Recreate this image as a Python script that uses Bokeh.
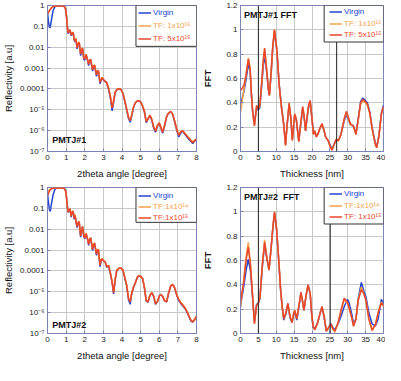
from bokeh.plotting import figure
from bokeh.models import Range1d, FixedTicker, Legend, LegendItem, BoxAnnotation, Span, Label
from bokeh.layouts import row, column
from bokeh.embed import file_html
from bokeh.resources import INLINE

# ---------------- data ----------------
xrr_angle = [0.00, 0.05, 0.10, 0.15, 0.20, 0.30, 0.40, 0.50, 0.60, 0.70,
             0.80, 0.90, 0.97, 1.02, 1.07, 1.11, 1.16, 1.21, 1.27, 1.33,
             1.38, 1.43, 1.48, 1.53, 1.59, 1.65, 1.70, 1.78, 1.83, 1.88,
             1.95, 2.00, 2.07, 2.14, 2.21, 2.27, 2.32, 2.42, 2.48, 2.53,
             2.63, 2.68, 2.73, 2.82, 2.88, 2.94, 3.02, 3.10, 3.18, 3.28,
             3.37, 3.47, 3.55, 3.63, 3.72, 3.85, 3.95, 4.05, 4.15, 4.25,
             4.35, 4.44, 4.52, 4.62, 4.72, 4.82, 4.90, 5.00, 5.10, 5.20,
             5.30, 5.40, 5.50, 5.60, 5.70, 5.80, 5.90, 6.00, 6.08, 6.18,
             6.28, 6.40, 6.50, 6.62, 6.72, 6.82, 6.95, 7.05, 7.15, 7.25,
             7.38, 7.50, 7.60, 7.70, 7.80, 7.90, 8.00]

# log10 of reflectivity, PMTJ#1
p1_virgin_log = [-0.35, -0.75, -1.05, -1.05, -0.75, -0.25, -0.05, -0.02, -0.02, -0.02,
                 -0.02, -0.04, -0.14, -0.48, -1.00, -1.35, -1.25, -1.18, -1.45, -1.33,
                 -1.30, -1.65, -1.75, -1.60, -2.08, -1.83, -1.77, -2.40, -2.18, -2.05,
                 -2.58, -2.62, -2.36, -2.60, -2.88, -2.63, -2.60, -3.15, -2.92, -2.88,
                 -3.40, -3.20, -3.14, -3.75, -3.60, -3.48, -3.58, -3.65, -3.72, -4.02,
                 -4.40, -5.05, -4.65, -4.18, -4.04, -4.00, -4.04, -4.22, -4.58, -5.00,
                 -5.42, -5.60, -5.30, -4.88, -4.66, -4.58, -4.56, -4.62, -4.80, -5.08,
                 -5.62, -5.45, -5.27, -5.50, -5.88, -6.08, -5.80, -5.64, -5.85, -6.12,
                 -5.80, -5.32, -5.16, -5.08, -5.22, -5.55, -6.02, -6.30, -6.12, -6.02,
                 -6.18, -6.32, -6.42, -6.52, -6.62, -6.50, -6.42]
p1_tf1_log = [-0.38, -0.30, -0.24, -0.18, -0.12, -0.05, -0.02, -0.02, -0.02, -0.02,
              -0.02, -0.04, -0.15, -0.50, -1.05, -1.30, -1.20, -1.15, -1.40, -1.30,
              -1.28, -1.60, -1.70, -1.58, -2.00, -1.80, -1.75, -2.30, -2.15, -2.02,
              -2.50, -2.55, -2.33, -2.55, -2.80, -2.60, -2.58, -3.05, -2.88, -2.85,
              -3.30, -3.15, -3.10, -3.65, -3.55, -3.45, -3.55, -3.62, -3.68, -3.95,
              -4.30, -4.90, -4.55, -4.15, -4.02, -3.98, -4.02, -4.20, -4.55, -4.95,
              -5.35, -5.50, -5.25, -4.85, -4.65, -4.57, -4.56, -4.62, -4.80, -5.05,
              -5.55, -5.40, -5.25, -5.45, -5.80, -6.00, -5.75, -5.62, -5.80, -6.05,
              -5.75, -5.30, -5.15, -5.08, -5.20, -5.50, -5.95, -6.20, -6.05, -5.98,
              -6.12, -6.25, -6.35, -6.45, -6.55, -6.45, -6.40]
p1_tf2_log = [-0.42, -0.33, -0.26, -0.19, -0.13, -0.06, -0.02, -0.02, -0.02, -0.02,
              -0.02, -0.05, -0.17, -0.55, -1.10, -1.32, -1.22, -1.17, -1.42, -1.32,
              -1.30, -1.62, -1.72, -1.60, -2.03, -1.82, -1.77, -2.33, -2.17, -2.04,
              -2.52, -2.57, -2.35, -2.57, -2.82, -2.62, -2.60, -3.08, -2.90, -2.87,
              -3.32, -3.17, -3.12, -3.68, -3.57, -3.47, -3.57, -3.64, -3.70, -3.98,
              -4.33, -4.92, -4.57, -4.17, -4.03, -3.99, -4.03, -4.22, -4.57, -4.97,
              -5.37, -5.52, -5.27, -4.87, -4.66, -4.58, -4.57, -4.63, -4.82, -5.07,
              -5.58, -5.42, -5.27, -5.47, -5.83, -6.03, -5.77, -5.63, -5.82, -6.08,
              -5.77, -5.32, -5.16, -5.09, -5.21, -5.52, -5.98, -6.23, -6.07, -6.00,
              -6.15, -6.28, -6.38, -6.48, -6.58, -6.48, -6.42]

# log10 of reflectivity, PMTJ#2
p2_virgin_log = [-0.30, -0.70, -1.05, -1.15, -0.85, -0.35, -0.08, -0.02, -0.02, -0.02,
                 -0.02, -0.04, -0.14, -0.42, -0.92, -1.20, -1.08, -1.02, -1.42, -1.18,
                 -1.14, -1.52, -1.34, -1.66, -1.92, -1.68, -1.64, -2.38, -2.08, -1.87,
                 -2.36, -2.46, -2.20, -2.44, -2.78, -2.48, -2.42, -3.02, -2.76, -2.68,
                 -3.25, -3.02, -2.98, -3.80, -3.50, -3.42, -3.52, -3.58, -3.82, -3.75,
                 -4.10, -4.55, -5.10, -4.45, -3.97, -3.86, -3.86, -3.96, -4.32, -4.70,
                 -5.38, -5.60, -5.10, -4.78, -4.56, -4.30, -4.22, -4.25, -4.34, -4.78,
                 -5.45, -5.50, -5.16, -5.04, -5.22, -5.60, -5.48, -5.20, -5.12, -5.21,
                 -5.42, -5.48, -5.06, -4.70, -4.64, -4.80, -5.20, -5.42, -5.56, -5.66,
                 -5.80, -6.00, -6.20, -6.40, -6.45, -6.32, -6.15]
p2_tf1_log = [-0.22, -0.16, -0.11, -0.08, -0.05, -0.03, -0.02, -0.02, -0.02, -0.02,
              -0.02, -0.04, -0.15, -0.45, -0.95, -1.15, -1.05, -1.00, -1.35, -1.15,
              -1.12, -1.45, -1.30, -1.60, -1.85, -1.65, -1.62, -2.30, -2.05, -1.85,
              -2.30, -2.40, -2.18, -2.40, -2.70, -2.45, -2.40, -2.94, -2.72, -2.65,
              -3.17, -2.98, -2.95, -3.70, -3.45, -3.40, -3.50, -3.55, -3.78, -3.72,
              -4.05, -4.50, -5.00, -4.40, -3.95, -3.85, -3.85, -3.95, -4.30, -4.65,
              -5.30, -5.45, -5.05, -4.75, -4.55, -4.30, -4.22, -4.25, -4.33, -4.75,
              -5.40, -5.45, -5.15, -5.03, -5.20, -5.55, -5.45, -5.20, -5.12, -5.20,
              -5.40, -5.45, -5.05, -4.70, -4.64, -4.78, -5.15, -5.35, -5.50, -5.60,
              -5.75, -5.95, -6.15, -6.35, -6.40, -6.30, -6.15]
p2_tf2_log = [-0.40, -0.28, -0.18, -0.12, -0.08, -0.03, -0.02, -0.02, -0.02, -0.02,
              -0.02, -0.05, -0.17, -0.50, -1.00, -1.18, -1.08, -1.03, -1.38, -1.18,
              -1.15, -1.48, -1.33, -1.63, -1.88, -1.68, -1.65, -2.33, -2.08, -1.88,
              -2.33, -2.43, -2.21, -2.43, -2.73, -2.48, -2.43, -2.97, -2.75, -2.68,
              -3.20, -3.01, -2.98, -3.73, -3.48, -3.43, -3.53, -3.58, -3.80, -3.75,
              -4.08, -4.55, -5.05, -4.43, -3.98, -3.87, -3.87, -3.97, -4.33, -4.68,
              -5.33, -5.48, -5.08, -4.77, -4.57, -4.32, -4.24, -4.27, -4.36, -4.78,
              -5.43, -5.48, -5.18, -5.05, -5.22, -5.58, -5.48, -5.22, -5.14, -5.22,
              -5.43, -5.48, -5.08, -4.72, -4.66, -4.80, -5.18, -5.38, -5.53, -5.63,
              -5.78, -5.98, -6.18, -6.38, -6.45, -6.35, -6.20]

# FFT, PMTJ#1
fft1_thick = [0.0, 0.5, 1.0, 1.5, 2.2, 2.7, 3.0, 3.4, 3.9, 4.5, 4.9, 5.4, 5.9, 6.4, 6.75,
              7.3, 7.8, 8.1, 8.6, 9.0, 9.5, 10.2, 10.8, 11.5, 12.1, 12.6, 13.0, 13.6,
              14.1, 14.5, 15.15, 15.6, 16.3, 16.9, 17.4, 17.8, 18.2, 18.6, 19.1, 19.5,
              20.0, 20.4, 20.8, 21.2, 21.6, 22.2, 22.8, 23.4, 23.8, 24.5, 25.1, 25.6,
              26.2, 26.8, 27.4, 28.1, 29.0, 29.6, 30.1, 30.7, 31.6, 32.3, 32.9, 33.6,
              34.2, 34.9, 35.5, 36.2, 36.8, 37.7, 38.1, 38.7, 39.4, 40.0]
fft1_virgin = [0.37, 0.44, 0.50, 0.58, 0.72, 0.66, 0.49, 0.33, 0.23, 0.36, 0.34, 0.36, 0.53,
               0.71, 0.79, 0.66, 0.51, 0.47, 0.65, 0.84, 0.99, 0.82, 0.56, 0.36, 0.22, 0.06,
               0.20, 0.38, 0.27, 0.10, 0.29, 0.26, 0.09, 0.23, 0.35, 0.28, 0.17, 0.27, 0.37,
               0.40, 0.27, 0.15, 0.17, 0.12, 0.14, 0.19, 0.22, 0.17, 0.12, 0.09, 0.05, 0.02,
               0.06, 0.10, 0.09, 0.14, 0.25, 0.30, 0.27, 0.22, 0.21, 0.15, 0.26, 0.41, 0.44,
               0.42, 0.40, 0.32, 0.20, 0.07, 0.04, 0.13, 0.31, 0.38]
fft1_tf1 = [0.32, 0.42, 0.52, 0.62, 0.77, 0.68, 0.50, 0.32, 0.21, 0.37, 0.35, 0.37, 0.55,
            0.75, 0.84, 0.68, 0.52, 0.46, 0.66, 0.85, 1.00, 0.82, 0.55, 0.35, 0.22, 0.05,
            0.20, 0.39, 0.27, 0.09, 0.30, 0.27, 0.08, 0.24, 0.36, 0.29, 0.17, 0.28, 0.38,
            0.41, 0.27, 0.14, 0.17, 0.12, 0.14, 0.19, 0.22, 0.17, 0.12, 0.09, 0.04, 0.01,
            0.06, 0.10, 0.085, 0.14, 0.26, 0.32, 0.28, 0.22, 0.21, 0.14, 0.25, 0.39, 0.42,
            0.40, 0.38, 0.31, 0.19, 0.06, 0.03, 0.12, 0.30, 0.36]
fft1_tf2 = [0.50, 0.52, 0.55, 0.62, 0.76, 0.68, 0.50, 0.33, 0.21, 0.38, 0.35, 0.38, 0.56,
            0.76, 0.85, 0.68, 0.51, 0.46, 0.67, 0.86, 1.00, 0.83, 0.55, 0.35, 0.22, 0.05,
            0.21, 0.40, 0.27, 0.09, 0.31, 0.27, 0.08, 0.25, 0.37, 0.29, 0.17, 0.28, 0.39,
            0.42, 0.27, 0.14, 0.17, 0.12, 0.14, 0.19, 0.23, 0.17, 0.12, 0.09, 0.04, 0.01,
            0.06, 0.10, 0.09, 0.14, 0.27, 0.33, 0.29, 0.23, 0.21, 0.14, 0.26, 0.40, 0.43,
            0.41, 0.39, 0.31, 0.19, 0.06, 0.03, 0.12, 0.31, 0.37]
fft1_marks = [5.0, 26.9]

# FFT, PMTJ#2
fft2_thick = [0.0, 0.4, 0.87, 1.56, 2.16, 2.77, 3.3, 3.9, 4.5, 5.0, 5.45, 6.06, 6.75, 7.36,
              7.97, 8.5, 9.1, 9.52, 10.1, 10.65, 11.25, 11.7, 12.1, 12.7, 13.25, 13.85, 14.4,
              14.9, 15.2, 15.75, 16.45, 16.9, 17.3, 17.75, 18.35, 18.9, 19.5, 19.9, 20.3,
              20.8, 21.6, 22.3, 22.8, 23.4, 24.0, 24.7, 25.3, 25.8, 26.4, 27.3, 28.1, 29.0,
              29.9, 30.3, 31.2, 31.6, 32.3, 32.9, 33.8, 34.6, 35.1, 35.9, 36.8, 37.7, 38.5,
              39.4, 40.0]
fft2_virgin = [0.22, 0.30, 0.38, 0.52, 0.61, 0.52, 0.33, 0.10, 0.24, 0.25, 0.29, 0.53, 0.74,
               0.62, 0.53, 0.68, 0.88, 0.99, 0.85, 0.62, 0.34, 0.21, 0.11, 0.16, 0.24, 0.13,
               0.09, 0.16, 0.18, 0.11, 0.24, 0.33, 0.27, 0.19, 0.31, 0.40, 0.32, 0.16, 0.05,
               0.04, 0.09, 0.17, 0.22, 0.13, 0.02, 0.05, 0.08, 0.05, 0.03, 0.08, 0.14, 0.22,
               0.28, 0.26, 0.15, 0.08, 0.12, 0.28, 0.42, 0.34, 0.30, 0.17, 0.08, 0.06, 0.12,
               0.28, 0.25]
fft2_tf1 = [0.21, 0.32, 0.43, 0.63, 0.75, 0.58, 0.35, 0.08, 0.23, 0.25, 0.30, 0.55, 0.77,
            0.63, 0.52, 0.68, 0.89, 0.99, 0.86, 0.63, 0.35, 0.21, 0.12, 0.17, 0.24, 0.14,
            0.09, 0.17, 0.19, 0.12, 0.25, 0.33, 0.27, 0.19, 0.31, 0.40, 0.33, 0.17, 0.06,
            0.03, 0.09, 0.17, 0.22, 0.14, 0.02, 0.05, 0.07, 0.04, 0.01, 0.09, 0.18, 0.28,
            0.25, 0.22, 0.12, 0.06, 0.12, 0.27, 0.38, 0.32, 0.27, 0.12, 0.02, 0.07, 0.17,
            0.26, 0.22]
fft2_tf2 = [0.25, 0.33, 0.42, 0.60, 0.71, 0.57, 0.34, 0.08, 0.23, 0.25, 0.30, 0.55, 0.75,
            0.62, 0.52, 0.68, 0.89, 1.00, 0.86, 0.62, 0.35, 0.21, 0.12, 0.17, 0.25, 0.14,
            0.09, 0.17, 0.19, 0.12, 0.25, 0.34, 0.28, 0.19, 0.32, 0.40, 0.33, 0.17, 0.06,
            0.03, 0.09, 0.17, 0.22, 0.14, 0.02, 0.05, 0.08, 0.04, 0.02, 0.09, 0.19, 0.29,
            0.26, 0.22, 0.12, 0.06, 0.12, 0.27, 0.36, 0.32, 0.27, 0.12, 0.03, 0.07, 0.17,
            0.25, 0.23]
fft2_marks = [5.0, 25.1]

xrr_ticks = [1e-7, 1e-6, 1e-5, 1e-4, 1e-3, 1e-2, 1e-1, 1]
xrr_tick_labels = ["10⁻⁷", "10⁻⁶", "10⁻⁵", "0.0001", "0.001", "0.01", "0.1", "1"]
angle_ticks = [0, 1, 2, 3, 4, 5, 6, 7, 8]
thick_ticks = [0, 5, 10, 15, 20, 25, 30, 35, 40]
fft_ticks = [0, 0.2, 0.4, 0.6, 0.8, 1.0, 1.2]

labels_1 = ["Virgin", "TF: 1x10¹⁵", "TF: 5x10¹⁵"]
labels_2 = ["Virgin", "TF:1x10¹⁴", "TF:1x10¹⁵"]
labels_2fft = ["Virgin", "TF:1x10¹⁴", "TF: 1x10¹⁵"]

for a, b in [(xrr_angle, p1_virgin_log), (xrr_angle, p1_tf1_log), (xrr_angle, p1_tf2_log),
             (xrr_angle, p2_virgin_log), (xrr_angle, p2_tf1_log), (xrr_angle, p2_tf2_log),
             (fft1_thick, fft1_virgin), (fft1_thick, fft1_tf1), (fft1_thick, fft1_tf2),
             (fft2_thick, fft2_virgin), (fft2_thick, fft2_tf1), (fft2_thick, fft2_tf2)]:
    if len(a) != len(b):
        raise ValueError("length mismatch %d %d" % (len(a), len(b)))

# ---------------- style ----------------
FONT = "Liberation Sans"
BLUE = "#2445d2"
ORANGE = "#f8a24c"
RED = "#e8472c"
COLORS = [BLUE, ORANGE, RED]
AXC = "#7b82b4"
GRID = "#c8c8c8"
LW = 1.5


def style(p, xlabel, ylabel, ybold=False, ystand=3):
    for ax in (p.xaxis[0], p.yaxis[0]):
        ax.major_label_text_font = FONT
        ax.major_label_text_font_size = "8px"
        ax.major_label_text_color = "#222222"
        ax.axis_label_text_font = FONT
        ax.axis_label_text_font_size = "9.5px"
        ax.axis_label_text_font_style = "normal"
        ax.axis_label_text_color = "#111111"
        ax.axis_line_color = AXC
        ax.major_tick_line_color = AXC
        ax.major_tick_in = 3
        ax.major_tick_out = 0
        ax.minor_tick_line_color = None
        ax.major_label_standoff = 3
    p.xaxis.axis_label = xlabel
    p.yaxis.axis_label = ylabel
    p.xaxis.axis_label_standoff = 5
    p.yaxis.axis_label_standoff = ystand
    if ybold:
        p.yaxis.axis_label_text_font_style = "bold"
    p.xgrid.grid_line_color = GRID
    p.ygrid.grid_line_color = GRID
    p.outline_line_color = AXC
    p.background_fill_color = "white"
    p.border_fill_color = "white"


def add_legend(p, renderers, labels, box_left, box_bottom, box_right, box_top, x0, vys):
    p.add_layout(BoxAnnotation(left=box_left, bottom=box_bottom, right=box_right, top=box_top,
                               fill_color="white", fill_alpha=1.0,
                               line_color="#333333", line_width=1, line_alpha=1.0))
    for r, lab, c, vy in zip(renderers, labels, COLORS, vys):
        lg = Legend(items=[LegendItem(label=lab, renderers=[r])], location=(x0, vy),
                    orientation="vertical", padding=0, margin=0, spacing=0,
                    border_line_alpha=0, background_fill_alpha=0,
                    label_text_font=FONT, label_text_font_size="8px", label_text_color=c,
                    glyph_width=13, glyph_height=11, label_height=11, label_standoff=2)
        p.add_layout(lg, "center")


def xrr_panel(series, labels, name, box_bottom, vys, name_y):
    p = figure(width=199, height=182, x_range=Range1d(0, 8), y_range=Range1d(1e-7, 1),
               y_axis_type="log", output_backend="svg", toolbar_location=None,
               min_border_left=46, min_border_right=3, min_border_top=5, min_border_bottom=31)
    style(p, "2theta angle [degree]", "Reflectivity [a.u]", ystand=3)
    p.xaxis.ticker = FixedTicker(ticks=angle_ticks)
    p.yaxis.ticker = FixedTicker(ticks=xrr_ticks)
    p.yaxis.major_label_overrides = dict(zip(xrr_ticks, xrr_tick_labels))
    rs = []
    for ys, c in zip(series, COLORS):
        rs.append(p.line(xrr_angle, [10 ** v for v in ys], line_color=c, line_width=LW))
    add_legend(p, rs, labels, 4.75, box_bottom, 8, 1, 91, vys)
    p.add_layout(Label(x=0.25, y=name_y, text=name, text_font=FONT, text_font_size="9px",
                       text_font_style="bold", text_baseline="middle", text_color="#111111"))
    return p


def fft_panel(xs, series, labels, marks, name):
    p = figure(width=186, height=182, x_range=Range1d(0, 40), y_range=Range1d(0, 1.2),
               output_backend="svg", toolbar_location=None,
               min_border_left=36, min_border_right=2, min_border_top=5, min_border_bottom=31)
    style(p, "Thickness [nm]", "FFT", ybold=True, ystand=10)
    p.xaxis.ticker = FixedTicker(ticks=thick_ticks)
    p.yaxis.ticker = FixedTicker(ticks=fft_ticks)
    rs = []
    for ys, c in zip(series, COLORS):
        rs.append(p.line(xs, ys, line_color=c, line_width=LW))
    for m in marks:
        p.add_layout(Span(location=m, dimension="height", line_color="#222222", line_width=1))
    add_legend(p, rs, labels, 23.4, 0.9, 40, 1.2, 89, [134, 122, 111])
    p.add_layout(Label(x=1.0, y=1.12, text=name, text_font=FONT, text_font_size="9px",
                       text_font_style="bold", text_baseline="middle", text_color="#111111"))
    return p


p_tl = xrr_panel([p1_virgin_log, p1_tf1_log, p1_tf2_log], labels_1, "PMTJ#1",
                 0.011, [133, 120, 107], 10 ** -6.45)
p_tr = fft_panel(fft1_thick, [fft1_virgin, fft1_tf1, fft1_tf2], labels_1, fft1_marks, "PMTJ#1 FFT")
p_bl = xrr_panel([p2_virgin_log, p2_tf1_log, p2_tf2_log], labels_2, "PMTJ#2",
                 10 ** -1.67, [132, 121, 110], 10 ** -6.6)
p_br = fft_panel(fft2_thick, [fft2_virgin, fft2_tf1, fft2_tf2], labels_2fft, fft2_marks,
                 "PMTJ#2\u00a0\u00a0FFT")

layout = column(row(p_tl, p_tr), row(p_bl, p_br))
open("out.html", "w").write(file_html(layout, INLINE))
